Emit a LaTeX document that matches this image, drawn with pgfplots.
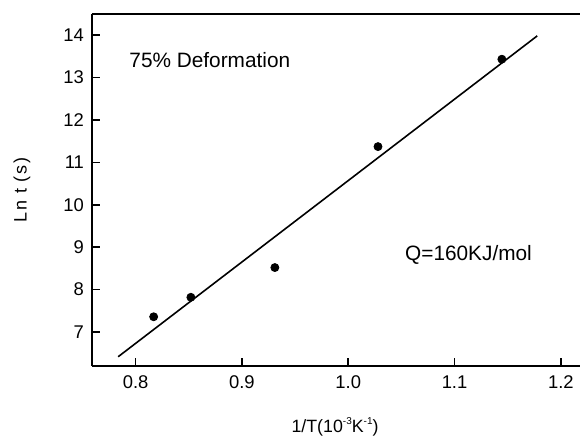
\documentclass[border=0pt]{standalone}
\usepackage{pgfplots}
\pgfplotsset{compat=1.18}
\usepackage{fontspec}
\setmainfont{Liberation Sans}
\begin{document}
\begin{tikzpicture}
\path[use as bounding box] (-46pt,-35pt) rectangle (244pt,183pt);
\begin{axis}[
  at={(0,0)}, anchor=south west,
  scale only axis, width=244pt, height=176pt,
  xmin=0.759, xmax=1.218, ymin=6.2, ymax=14.495,
  axis lines=left, axis line style={-, line width=1pt},
  xtick={0.8,0.9,1.0,1.1,1.2}, ytick={7,8,9,10,11,12,13,14},
  tick align=inside, major tick length=3.8pt,
  tick style={line width=0.8pt, black},
  /pgf/number format/assume math mode=true,
  xticklabel style={yshift=-1.5pt, /pgf/number format/fixed, /pgf/number format/fixed zerofill, /pgf/number format/precision=1},
  ticklabel style={font=\fontsize{9.2}{10}\selectfont},
  yticklabel style={xshift=-0.5pt},
  clip=false,
]
\draw[line width=1pt] (rel axis cs:0,1) -- (rel axis cs:1,1);
\addplot[only marks, mark=*, mark size=2pt, black] coordinates {
  (0.817,7.36) (0.852,7.82) (0.931,8.52) (1.028,11.37) (1.1445,13.43)
};
\addplot[black, line width=0.8pt] coordinates {(0.7836,6.418) (1.1778,13.98)};
\node[anchor=west, inner sep=0pt, font=\fontsize{10.4}{12}\selectfont] at (rel axis cs:0.076,0.869) {75\% Deformation};
\node[anchor=west, inner sep=0pt, font=\fontsize{10.4}{12}\selectfont] at (rel axis cs:0.641,0.315) {Q=160KJ/mol};
\node[font=\fontsize{8.9}{10}\selectfont] at ([yshift=-30.5pt]rel axis cs:0.498,0) {1/T(10\raisebox{0.9ex}{\fontsize{5}{6}\selectfont -3}K\raisebox{0.9ex}{\fontsize{5}{6}\selectfont -1})};
\node[rotate=90, font=\fontsize{9}{10}\selectfont\addfontfeature{LetterSpace=10}] at ([xshift=-35pt]rel axis cs:0,0.5) {Ln t (s)};
\end{axis}
\end{tikzpicture}
\end{document}
